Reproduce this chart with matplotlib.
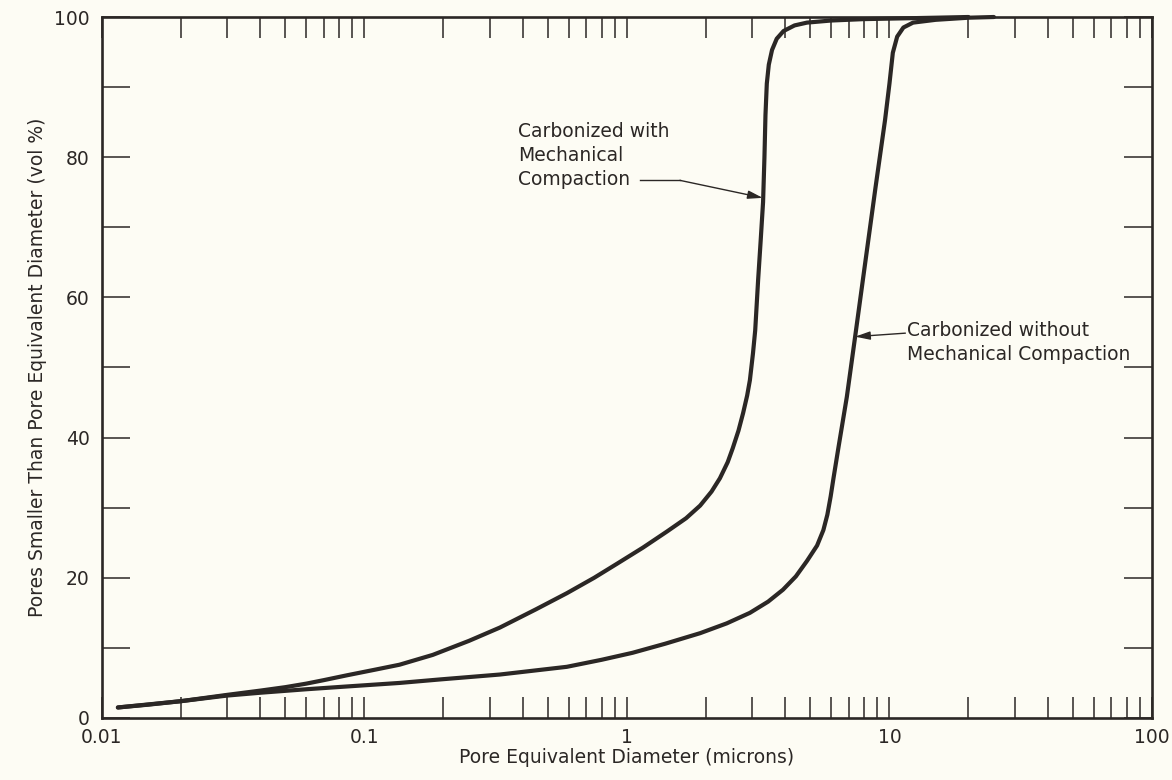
import matplotlib
matplotlib.use("Agg")
from matplotlib import pyplot as plt
from matplotlib.ticker import FixedLocator, NullFormatter

BG = "#fdfcf4"
INK = "#2b2725"
FONT = ["DejaVu Sans"]

# pore equivalent diameter (microns) and cumulative vol %
with_comp_x = [0.0115, 0.015, 0.02, 0.03, 0.04, 0.05, 0.06, 0.07, 0.086, 0.11,
               0.136, 0.182, 0.25, 0.328, 0.45, 0.59, 0.75, 0.916, 1.15, 1.42,
               1.68, 1.90, 2.10, 2.26, 2.42, 2.53, 2.66, 2.77, 2.87, 2.94,
               3.02, 3.08, 3.16, 3.23, 3.30, 3.34, 3.37, 3.41, 3.47, 3.57,
               3.72, 3.95, 4.35, 4.85, 6.0, 8.0, 11.0, 15.0, 20.0]
with_comp_y = [1.5, 1.9, 2.4, 3.3, 3.9, 4.4, 4.9, 5.4, 6.1, 6.9,
               7.6, 9.0, 11.0, 12.9, 15.5, 17.8, 20.0, 22.0, 24.3, 26.6,
               28.5, 30.3, 32.3, 34.2, 36.5, 38.5, 41.0, 43.5, 46.0, 48.2,
               52.0, 55.3, 62.5, 68.0, 73.6, 80.0, 86.0, 90.5, 93.2, 95.3,
               96.9, 98.0, 98.8, 99.2, 99.5, 99.7, 99.8, 99.9, 100.0]

without_comp_x = [0.0115, 0.02, 0.03, 0.04, 0.06, 0.086, 0.136, 0.194, 0.328, 0.59,
                  0.8, 1.05, 1.4, 1.9, 2.4, 2.94, 3.45, 3.93, 4.4, 4.85,
                  5.30, 5.60, 5.80, 5.97, 6.12, 6.40, 6.88, 7.40, 7.92,
                  8.85, 9.62, 10.0, 10.3, 10.7, 11.3, 12.3, 15.0, 20.0, 25.0]
without_comp_y = [1.5, 2.4, 3.2, 3.6, 4.1, 4.5, 5.0, 5.5, 6.2, 7.3,
                  8.3, 9.3, 10.6, 12.1, 13.5, 15.0, 16.6, 18.3, 20.2, 22.4,
                  24.6, 26.8, 29.0, 31.6, 34.2, 38.7, 45.8, 54.4, 62.5,
                  75.7, 85.3, 90.5, 94.9, 97.2, 98.5, 99.2, 99.6, 99.9, 100.0]

x_major = [0.01, 0.1, 1, 10, 100]
x_major_labels = ["0.01", "0.1", "1", "10", "100"]
y_major = [0, 20, 40, 60, 80, 100]
y_minor = [10, 30, 50, 70, 90]

label_with = "Carbonized with\nMechanical\nCompaction"
label_without = "Carbonized without\nMechanical Compaction"


def main():
    plt.rcParams["font.family"] = FONT
    fig = plt.figure(figsize=(11.72, 7.80), dpi=100, facecolor=BG)
    ax = fig.add_axes([0.0870, 0.0795, 0.8959, 0.8987], facecolor=BG)

    for xs, ys in [(with_comp_x, with_comp_y), (without_comp_x, without_comp_y)]:
        ax.plot(xs, ys, color=INK, lw=3.0, solid_joinstyle="round",
                solid_capstyle="round", clip_on=False, zorder=3)

    ax.set_xscale("log")
    ax.set_xlim(0.01, 100)
    ax.set_ylim(0, 100)

    x_minor = [m * d for d in [0.01, 0.1, 1, 10] for m in range(2, 10)]
    ax.xaxis.set_major_locator(FixedLocator(x_major))
    ax.xaxis.set_minor_locator(FixedLocator(x_minor))
    ax.set_xticklabels(x_major_labels)
    ax.xaxis.set_minor_formatter(NullFormatter())
    ax.set_yticks(y_major)
    ax.set_yticks(y_minor, minor=True)

    ax.tick_params(axis="x", which="both", direction="in", length=15, width=1.1,
                   top=True, color=INK, labelsize=13.5, labelcolor=INK, pad=7)
    ax.tick_params(axis="y", which="both", direction="in", length=20, width=1.1,
                   right=True, color=INK, labelsize=13.5, labelcolor=INK, pad=9)
    for s in ax.spines.values():
        s.set_linewidth(1.9)
        s.set_color(INK)

    ax.set_xlabel("Pore Equivalent Diameter (microns)", fontsize=13.5,
                  color=INK, labelpad=1)
    ax.set_ylabel("Pores Smaller Than Pore Equivalent Diameter (vol %)",
                  fontsize=13.5, color=INK, labelpad=5)

    # annotation: with compaction
    ax.text(0.385, 80.3, label_with, fontsize=13.5, color=INK,
            ha="left", va="center", linespacing=1.33)
    ax.plot([1.12, 1.59], [76.7, 76.7], color=INK, lw=1.0)
    ax.annotate("", xy=(3.29, 74.2), xytext=(1.59, 76.7),
                arrowprops=dict(arrowstyle="-|>,head_length=0.9,head_width=0.25",
                                color=INK, lw=1.0, shrinkA=0, shrinkB=0))

    # annotation: without compaction
    ax.text(11.7, 53.5, label_without, fontsize=13.5, color=INK,
            ha="left", va="center", linespacing=1.33)
    ax.annotate("", xy=(7.40, 54.4), xytext=(11.5, 54.9),
                arrowprops=dict(arrowstyle="-|>,head_length=0.9,head_width=0.25",
                                color=INK, lw=1.0, shrinkA=0, shrinkB=0))

    fig.savefig("out.png", dpi=100, facecolor=BG)


if __name__ == "__main__":
    main()
